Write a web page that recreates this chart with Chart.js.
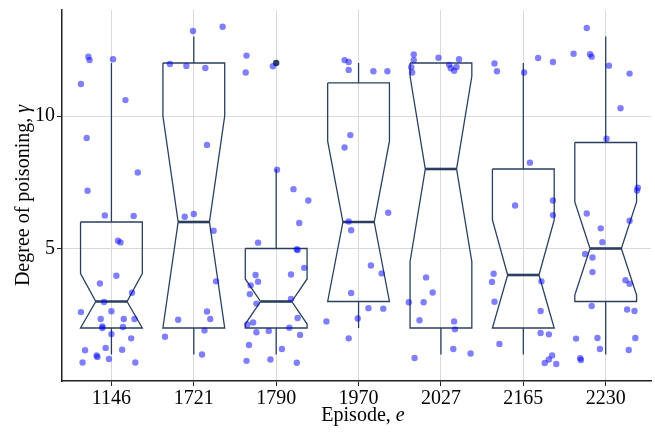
<!DOCTYPE html>
<html>
<head>
<meta charset="utf-8">
<script src="https://cdn.jsdelivr.net/npm/chart.js@4"></script>
<style>
  html, body { margin: 0; padding: 0; background: #fff; }
  #wrap { width: 655px; height: 434px; position: relative; }
</style>
</head>
<body>
<div id="wrap"><canvas id="boxChart"></canvas></div>
<script>
// episodes on the x axis
const categories = ["1146", "1721", "1790", "1970", "2027", "2165", "2230"];
const yTicks = [5, 10];

// box statistics per episode
const q1 = [2, 2, 2, 3, 2, 2, 3];
const medians = [3, 6, 3, 6, 8, 4, 5];
const q3 = [6, 12, 5, 11.25, 12, 8, 9];
const notchLow = [1.95, 2, 2.15, 2.95, 4.5, 1.92, 3.24];
const notchHigh = [4.05, 10, 3.85, 9.05, 11.5, 6.08, 6.76];
const whiskerLow = [1, 1, 1, 2, 1, 1, 1];
const whiskerHigh = [12, 13, 8, 12, 12, 12, 13];
const outlierCat = [2];
const outlierVal = [12];

const values1146 = [12.24, 12.11, 12.14, 11.21, 10.6, 9.17, 7.87, 7.18, 6.25, 6.23, 5.29, 5.23, 3.97, 3.68, 3.33, 2.98, 2.6, 2.63, 2.34, 2.34, 2.34, 2.06, 2.0, 2.04, 1.77, 1.61, 1.16, 1.25, 1.18, 0.96, 0.91, 0.83, 0.7, 0.7];
const jitter1146 = [-0.28, -0.265, 0.02, -0.37, 0.17, -0.3, 0.32, -0.29, -0.08, 0.27, 0.08, 0.11, 0.06, -0.14, 0.25, -0.09, -0.37, 0, -0.13, 0.15, 0.28, -0.11, -0.11, 0.14, 0, 0.24, -0.32, -0.07, 0.13, -0.18, -0.17, -0.03, -0.35, 0.29];
const values1721 = [13.21, 13.37, 11.96, 11.89, 11.81, 8.91, 6.2, 6.3, 5.67, 3.76, 2.62, 2.34, 2.31, 1.91, 1.67, 1.0];
const jitter1721 = [-0.01, 0.35, -0.29, -0.09, 0.14, 0.16, -0.11, 0, 0.24, 0.27, 0.16, 0.2, -0.19, 0.13, -0.35, 0.1];
const values1790 = [12.28, 11.64, 11.88, 7.97, 7.24, 6.81, 5.96, 5.22, 4.97, 4.94, 4.27, 4.0, 4.02, 3.75, 3.61, 3.28, 2.92, 3.1, 2.38, 2.21, 2.13, 2.01, 1.84, 1.89, 1.74, 1.36, 1.21, 0.76, 0.81, 0.69];
const jitter1790 = [-0.36, -0.37, -0.04, 0.01, 0.21, 0.39, 0.28, -0.22, 0.25, 0.26, 0.34, -0.25, 0.18, -0.22, -0.31, -0.32, -0.24, 0.18, 0.26, -0.28, -0.35, 0.16, -0.24, -0.09, 0.29, -0.33, 0.07, -0.36, -0.07, 0.25];
const values1970 = [12.11, 12.04, 11.74, 11.69, 11.69, 9.28, 8.81, 6.35, 6.02, 5.69, 4.36, 4.06, 3.32, 2.75, 2.73, 2.36, 2.25, 1.61];
const jitter1970 = [-0.17, -0.12, -0.12, 0.18, 0.35, -0.1, -0.17, 0.36, -0.12, -0.09, 0.15, 0.28, -0.09, 0.12, 0.3, -0.01, -0.39, -0.12];
const values2027 = [12.32, 12.11, 11.84, 11.64, 12.2, 11.93, 11.8, 11.71, 11.85, 12.14, 3.91, 3.34, 2.97, 2.97, 2.29, 2.25, 1.95, 1.21, 1.04, 0.87];
const jitter2027 = [-0.33, -0.33, -0.36, -0.35, -0.03, 0.1, 0.12, 0.16, 0.19, 0.22, -0.18, -0.1, -0.39, -0.21, -0.26, 0.16, 0.17, 0.15, 0.36, -0.32];
const values2165 = [11.98, 11.69, 11.64, 12.19, 12.04, 8.24, 6.62, 6.81, 6.26, 4.05, 3.74, 3.76, 2.99, 2.64, 1.81, 1.76, 1.4, 0.96, 0.81, 0.68, 0.64];
const jitter2165 = [-0.35, -0.32, 0.01, 0.18, 0.36, 0.08, -0.1, 0.36, 0.36, -0.36, -0.38, 0.22, -0.35, 0.21, 0.21, 0.31, -0.29, 0.35, 0.31, 0.26, 0.4];
const values2230 = [13.32, 12.35, 12.33, 12.24, 11.9, 11.6, 10.29, 9.14, 7.29, 7.19, 6.32, 6.05, 5.76, 5.24, 4.79, 4.66, 4.11, 3.8, 3.67, 2.83, 2.7, 2.64, 1.6, 1.62, 1.62, 1.21, 1.17, 0.86, 0.79];
const jitter2230 = [-0.23, -0.39, -0.19, -0.17, 0.04, 0.29, 0.18, 0.01, 0.39, 0.38, -0.23, 0.29, -0.06, -0.04, -0.25, -0.16, -0.16, 0.24, 0.29, -0.17, 0.26, 0.35, -0.36, -0.1, 0.36, -0.07, 0.28, -0.31, -0.3];

const allValues = [values1146, values1721, values1790, values1970, values2027, values2165, values2230];
const allJitter = [jitter1146, jitter1721, jitter1790, jitter1970, jitter2027, jitter2165, jitter2230];

const FONT = "Liberation Serif";
const LINE = "#2a3f5f";
const BOX_W = 0.375;   // half width of a box, in category units
const NOTCH_W = 0.19;  // half width at the notch waist

const datasets = [];

// jittered points
const pts = [];
allValues.forEach((vals, i) => {
    vals.forEach((v, k) => pts.push({ x: i + allJitter[i][k], y: v }));
});
datasets.push({
    data: pts,
    pointRadius: 3.2,
    pointBackgroundColor: "rgba(0, 0, 255, 0.5)",
    pointBorderWidth: 0,
    showLine: false,
    order: 0,
});

// outliers
datasets.push({
    data: outlierCat.map((c, k) => ({ x: c, y: outlierVal[k] })),
    pointRadius: 3.2,
    pointBackgroundColor: LINE,
    pointBorderWidth: 0,
    showLine: false,
    order: 0,
});

function lineSet(data, width) {
    return {
        data: data,
        showLine: true,
        borderColor: LINE,
        borderWidth: width,
        pointRadius: 0,
        fill: false,
        tension: 0,
        order: 1,
    };
}

categories.forEach((c, i) => {
    const lo = Math.max(notchLow[i], q1[i]);
    const hi = Math.min(notchHigh[i], q3[i]);
    // notched box outline
    datasets.push(lineSet([
        { x: i - BOX_W, y: q3[i] },
        { x: i + BOX_W, y: q3[i] },
        { x: i + BOX_W, y: hi },
        { x: i + NOTCH_W, y: medians[i] },
        { x: i + BOX_W, y: lo },
        { x: i + BOX_W, y: q1[i] },
        { x: i - BOX_W, y: q1[i] },
        { x: i - BOX_W, y: lo },
        { x: i - NOTCH_W, y: medians[i] },
        { x: i - BOX_W, y: hi },
        { x: i - BOX_W, y: q3[i] },
    ], 1.3));
    // median
    datasets.push(lineSet([
        { x: i - NOTCH_W, y: medians[i] },
        { x: i + NOTCH_W, y: medians[i] },
    ], 2.6));
    // whiskers
    if (whiskerHigh[i] > q3[i]) {
        datasets.push(lineSet([{ x: i, y: q3[i] }, { x: i, y: whiskerHigh[i] }], 1.3));
    }
    if (whiskerLow[i] < q1[i]) {
        datasets.push(lineSet([{ x: i, y: q1[i] }, { x: i, y: whiskerLow[i] }], 1.3));
    }
});

// axis titles with an italic symbol at the end
const axisTitles = {
    id: "axisTitles",
    afterDraw(chart) {
        const ctx = chart.ctx;
        const area = chart.chartArea;
        const normal = "20px '" + FONT + "'";
        const italic = "italic 20px '" + FONT + "'";
        function draw(a, b) {
            ctx.font = normal;
            const wa = ctx.measureText(a).width;
            ctx.font = italic;
            const wb = ctx.measureText(b).width;
            const start = -(wa + wb) / 2;
            ctx.font = normal;
            ctx.fillText(a, start, 0);
            ctx.font = italic;
            ctx.fillText(b, start + wa, 0);
        }
        ctx.save();
        ctx.fillStyle = "#000";
        ctx.textBaseline = "alphabetic";
        ctx.textAlign = "left";
        ctx.translate(363, 421);
        draw("Episode, ", "e");
        ctx.restore();

        ctx.save();
        ctx.fillStyle = "#000";
        ctx.textBaseline = "alphabetic";
        ctx.textAlign = "left";
        ctx.translate(29, (area.top + area.bottom) / 2);
        ctx.rotate(-Math.PI / 2);
        draw("Degree of poisoning, ", "\u03b3");
        ctx.restore();
    },
};

new Chart(document.getElementById("boxChart"), {
    type: "scatter",
    data: { datasets: datasets },
    plugins: [axisTitles],
    options: {
        responsive: true,
        maintainAspectRatio: false,
        animation: false,
        layout: { padding: { top: 10, right: 0, left: 0, bottom: 0 } },
        plugins: {
            legend: { display: false },
            tooltip: { enabled: false },
        },
        scales: {
            x: {
                type: "linear",
                min: -0.6,
                max: 6.55,
                afterBuildTicks: (s) => {
                    s.ticks = categories.map((c, i) => ({ value: i }));
                },
                afterFit: (s) => {
                    s.height = 53;
                    s.paddingRight = 0;
                },
                ticks: {
                    callback: (v) => categories[v],
                    font: { family: FONT, size: 20 },
                    color: "#000",
                    padding: 1,
                    maxRotation: 0,
                    autoSkip: false,
                },
                grid: { color: "#d9d9d9", tickColor: "#222", tickLength: 5, lineWidth: 1 },
                border: { color: "#222", width: 1.5 },
            },
            y: {
                min: 0,
                max: 14,
                afterBuildTicks: (s) => {
                    s.ticks = yTicks.map((v) => ({ value: v }));
                },
                afterFit: (s) => {
                    s.width = 62;
                    s.paddingTop = 0;
                    s.paddingBottom = 0;
                },
                ticks: {
                    font: { family: FONT, size: 20 },
                    color: "#000",
                    padding: 2,
                },
                grid: { color: "#d9d9d9", tickColor: "#222", tickLength: 5, lineWidth: 1 },
                border: { color: "#222", width: 1.5 },
            },
        },
    },
});
</script>
</body>
</html>
